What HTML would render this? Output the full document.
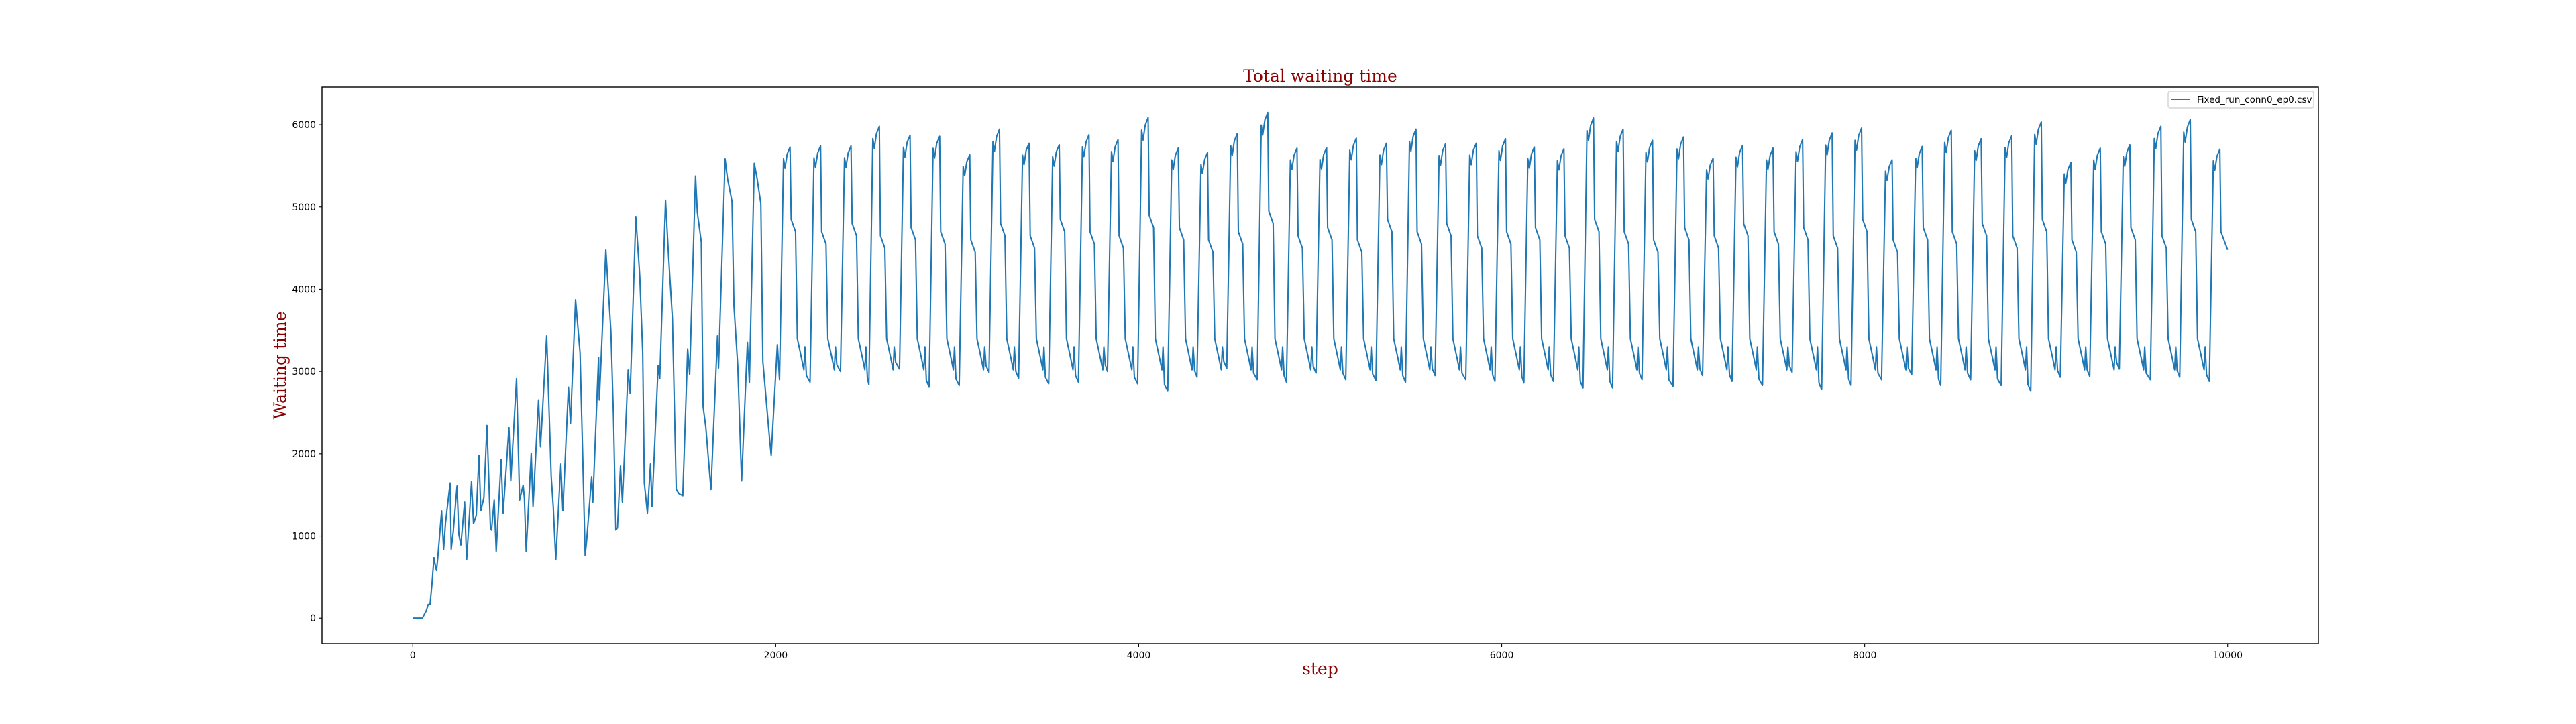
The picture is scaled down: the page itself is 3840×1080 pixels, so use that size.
<!DOCTYPE html>
<html><head><meta charset="utf-8"><style>
html,body{margin:0;padding:0;background:#fff;}
svg{display:block;}
</style></head><body>
<svg id="chart" width="3840" height="1080" xmlns="http://www.w3.org/2000/svg" font-family="'DejaVu Sans','Liberation Sans',sans-serif">
<rect width="3840" height="1080" fill="#fff"/>
<text x="1968" y="122" text-anchor="middle" font-family="'DejaVu Serif','Liberation Serif',serif" font-size="25" fill="#8b0000">Total waiting time</text>
<text x="1968" y="1006" text-anchor="middle" font-family="'DejaVu Serif','Liberation Serif',serif" font-size="25" fill="#8b0000">step</text>
<text transform="translate(426,545) rotate(-90)" text-anchor="middle" font-family="'DejaVu Serif','Liberation Serif',serif" font-size="25" fill="#8b0000">Waiting time</text>
<g id="xticks"></g>
<g id="yticks"></g>
<g id="series"></g>
<rect x="480" y="130" width="2976" height="830" fill="none" stroke="#000" stroke-width="1.4"/>
<g>
<rect x="3232" y="136" width="217" height="25" rx="3" fill="#fff" fill-opacity="0.8" stroke="#ccc" stroke-width="1.2"/>
<line x1="3237" y1="148" x2="3265" y2="148" stroke="#1f77b4" stroke-width="2.1"/>
<text x="3275" y="153" font-size="13.5" fill="#000">Fixed_run_conn0_ep0.csv</text>
</g>
</svg>
<script>
// ---- data ----
const xTicks = [0, 2000, 4000, 6000, 8000, 10000];
const yTicks = [0, 1000, 2000, 3000, 4000, 5000, 6000];
// early ramp-up phase (steps, values)
const earlySteps = [0,53,74,85,95,106,117,123,131,138,159,170,180,206,212,223,244,254,265,286,297,324,335,350,365,375,392,409,428,434,449,460,487,498,530,540,572,589,608,615,625,653,663,693,704,738,763,774,788,816,827,858,869,897,922,937,950,958,986,992,1024,1028,1064,1092,1106,1119,1128,1145,1155,1187,1198,1229,1251,1267,1276,1293,1310,1318,1352,1361,1393,1409,1431,1452,1467,1488,1515,1526,1558,1568,1590,1600,1615,1643,1679,1685,1721,1734,1759,1770,1791,1812,1844,1855,1882,1897,1918,1929,1967,1975,2009];
const earlyVals  = [0,0,88,166,166,425,736,658,580,736,1306,839,1151,1643,839,1047,1607,1021,891,1410,710,1659,1151,1254,1980,1306,1462,2343,1099,1073,1436,813,1928,1280,2317,1669,2913,1436,1617,1462,813,2006,1358,2654,2084,3432,1721,1358,710,1876,1306,2810,2369,3873,3224,1928,762,943,1721,1410,3173,2654,4479,3484,2447,1073,1099,1851,1410,3017,2732,4884,4158,3224,1643,1280,1876,1358,3069,2913,5081,4417,3639,1565,1513,1488,3276,2965,5376,4936,4573,2576,2317,1565,3432,3043,5584,5350,5065,3795,3069,1669,3354,2862,5532,5350,5039,3121,2162,1980,3328];
// steady periodic phase: one entry per cycle
const peakStart = [2043,2211,2379,2535,2704,2867,3033,3197,3360,3526,3690,3850,4016,4182,4343,4507,4675,4836,4999,5163,5329,5492,5655,5824,5985,6144,6307,6470,6633,6795,6966,7129,7291,7459,7622,7785,7947,8115,8281,8441,8606,8774,8937,9100,9262,9425,9596,9758,9921];
const peakVal = [5729,5742,5742,5981,5873,5859,5634,5946,5775,5756,5878,5818,6087,5715,5661,5892,6149,5715,5721,5837,5775,5946,5770,5775,5829,5729,5707,6081,5946,5810,5851,5593,5748,5715,5818,5900,5959,5574,5735,5932,5829,5865,6033,5539,5715,5756,5981,6062,5702];
const plateauVal = [4700,4550,4650,4500,4600,4550,4450,4650,4500,4700,4550,4500,4750,4600,4450,4550,4800,4500,4600,4450,4700,4550,4650,4500,4550,4600,4500,4700,4550,4450,4600,4500,4650,4550,4600,4500,4700,4450,4600,4550,4650,4500,4700,4450,4550,4600,4500,4700,4550];
const troughVal = [2900,2870,3000,2840,3030,2810,2830,2990,2920,2850,2870,3000,2850,2760,2930,3040,2900,2870,2980,2900,2890,2870,2950,2900,2880,2860,2880,2800,2800,2900,2820,2950,2880,2830,2990,2780,2830,2900,2960,2830,2900,2830,2760,2930,2940,3030,2900,2930,2880];
// ---- scales ----
const X0=480, X1=3456, Y0=130, Y1=960;
const xMin=-500, xMax=10500, yMin=-308, yMax=6457;
function sx(v){return X0+(v-xMin)/(xMax-xMin)*(X1-X0);}
function sy(v){return Y1-(v-yMin)/(yMax-yMin)*(Y1-Y0);}
const NS="http://www.w3.org/2000/svg";
function mk(tag,attrs,parent){const e=document.createElementNS(NS,tag);for(const k in attrs)e.setAttribute(k,attrs[k]);parent.appendChild(e);return e;}
// ---- axes ----
const gx=document.getElementById('xticks');
xTicks.forEach(t=>{
  const l=mk('line',{x1:sx(t),x2:sx(t),y1:Y1,y2:Y1+5,stroke:'#000','stroke-width':1.1},gx);
  
  
  const tx=mk('text',{x:sx(t),y:Y1+22,'text-anchor':'middle','font-size':14,fill:'#000'},gx);
  tx.textContent=t;
  
  
});
const gy=document.getElementById('yticks');
yTicks.forEach(t=>{
  const l=mk('line',{x1:X0-5,x2:X0,y1:sy(t),y2:sy(t),stroke:'#000','stroke-width':1.1},gy);
  
  
  const tx=mk('text',{x:X0-9,y:sy(t)+5,'text-anchor':'end','font-size':14,fill:'#000'},gy);
  tx.textContent=t;
  
  
});
// ---- series ----
const pts=[];
for(let i=0;i<earlySteps.length;i++) pts.push([earlySteps[i],earlyVals[i]]);
for(let c=0;c<peakStart.length;c++){
  const p=peakStart[c], P=peakVal[c], L=plateauVal[c];
  const nextLow = c+1<troughVal.length ? troughVal[c+1] : 2900;
  const cyc=[[p-22,troughVal[c]],[p,P*0.975],[p+8,P*0.955],[p+20,P*0.985],[p+36,P],[p+42,L+150],[p+66,L],[p+76,3400],[p+100,3150],[p+112,3020],[p+118,3300],[p+126,nextLow+80]];
  cyc.forEach(q=>{ if(q[0]<=9975) pts.push(q); });
}
pts.push([10000,4480]);
const d=pts.map((q,i)=>(i?'L':'M')+sx(q[0]).toFixed(1)+' '+sy(q[1]).toFixed(1)).join(' ');
const path=mk('path',{d:d,fill:'none',stroke:'#1f77b4','stroke-width':2.1,'stroke-linejoin':'round'},document.getElementById('series'));


</script>
</body></html>
